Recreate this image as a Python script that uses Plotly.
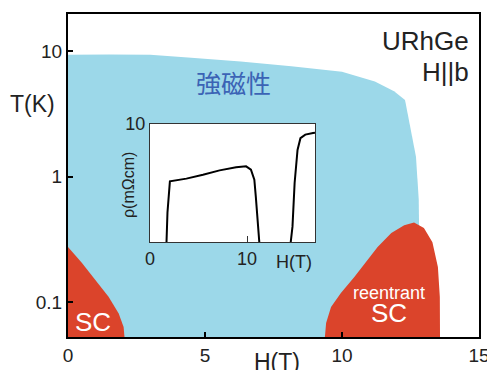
import plotly.graph_objects as go

# ---- data ----
# ferromagnetic (blue) region boundary: H (T), T (K)
fm_H = [0, 0, 1.5, 3.0, 4.5, 6.3, 8.15, 10.0, 11.2, 11.9, 12.3, 12.5, 12.7, 12.8, 12.82, 12.82]
fm_T = [0.04, 9.4, 9.45, 9.4, 8.9, 8.3, 7.6, 6.9, 5.75, 4.8, 4.1, 2.5, 1.44, 0.66, 0.3, 0.04]

# low-field superconducting region
sc_H = [0, 0, 0.51, 0.99, 1.48, 1.85, 2.03, 2.07, 2.07]
sc_T = [0.04, 0.275, 0.205, 0.15, 0.11, 0.081, 0.063, 0.05, 0.04]

# reentrant superconducting region
rsc_H = [9.33, 9.42, 9.6, 9.96, 10.45, 10.94, 11.3, 11.8, 12.27, 12.63, 12.99, 13.3, 13.5, 13.57, 13.58]
rsc_T = [0.04, 0.068, 0.091, 0.118, 0.158, 0.217, 0.275, 0.355, 0.41, 0.43, 0.39, 0.3, 0.19, 0.11, 0.04]

# inset: resistivity vs field (zero-resistance stretches lie on the axis line)
inset_H = [1.7, 1.8, 2.05, 3.75, 5.46, 7.17, 8.87, 9.9, 10.4, 10.75, 10.9, 11.1, 11.26, None,
           14.5, 14.68, 14.9, 15.2, 15.5, 16.0, 16.8, 17.0]
inset_rho = [0, 2.5, 5.14, 5.37, 5.7, 6.07, 6.33, 6.41, 6.13, 5.28, 3.87, 1.9, 0, None,
             0, 1.3, 5.0, 7.8, 8.8, 9.1, 9.24, 9.26]

x_ticks = [0, 5, 10, 15]
y_ticks = [0.1, 1, 10]
y_ticktext = ["0.1", "1", "10"]
inset_x_ticks = [0, 10]
inset_y_ticks = [10]

BLUE = "#9cd8e9"
RED = "#db442b"
FONT = "Liberation Sans, Arial, sans-serif"

# layout geometry (pixels)
W, H = 487, 370
L, R, T, B = 68, 479, 14, 337


def px(x):
    return (x - L) / (R - L)


def py(y):
    return (B - y) / (B - T)


fig = go.Figure()
fig.add_trace(go.Scatter(x=fm_H, y=fm_T, mode="lines", fill="toself", fillcolor=BLUE,
                         line=dict(width=0, color=BLUE), hoverinfo="skip"))
fig.add_trace(go.Scatter(x=sc_H, y=sc_T, mode="lines", fill="toself", fillcolor=RED,
                         line=dict(width=0, color=RED), hoverinfo="skip"))
fig.add_trace(go.Scatter(x=rsc_H, y=rsc_T, mode="lines", fill="toself", fillcolor=RED,
                         line=dict(width=0, color=RED), hoverinfo="skip"))
fig.add_trace(go.Scatter(x=inset_H, y=inset_rho, mode="lines", xaxis="x2", yaxis="y2",
                         line=dict(width=2, color="black"), connectgaps=False,
                         hoverinfo="skip"))

fig.update_layout(
    width=W, height=H,
    margin=dict(l=L, r=W - R, t=T, b=H - B, pad=0, autoexpand=False),
    paper_bgcolor="white", plot_bgcolor="white",
    showlegend=False,
    font=dict(family=FONT, color="#222222"),
    xaxis=dict(range=[0, 15], tickvals=x_ticks, ticks="inside", ticklen=5, tickwidth=2,
               tickcolor="black", showline=True, linecolor="black", linewidth=2, mirror=True,
               showgrid=False, zeroline=False, tickfont=dict(size=19), layer="above traces",
               ticklabeloverflow="allow", automargin=False),
    yaxis=dict(type="log", range=[-1.28, 1.299], tickvals=y_ticks, ticktext=y_ticktext,
               ticks="inside", ticklen=5, tickwidth=2, tickcolor="black",
               showline=True, linecolor="black", linewidth=2, mirror=True,
               showgrid=False, zeroline=False, tickfont=dict(size=19), layer="above traces",
               automargin=False),
    xaxis2=dict(domain=[px(150), px(315)], anchor="y2", range=[0, 17], tickvals=inset_x_ticks,
                ticks="inside", ticklen=6, tickwidth=1, tickcolor="#333",
                showline=True, linecolor="#333", linewidth=1, mirror=True,
                showgrid=False, zeroline=False, tickfont=dict(size=18), automargin=False),
    yaxis2=dict(domain=[py(242), py(124)], anchor="x2", range=[0, 10], tickvals=inset_y_ticks,
                ticks="", showline=True, linecolor="#333", linewidth=1, mirror=True,
                showgrid=False, zeroline=False, tickfont=dict(size=18), automargin=False),
)

annots = [
    dict(text="T(K)", x=px(32), y=py(104), size=23, color="#222222"),
    dict(text="H(T)", x=px(277), y=py(362), size=23, color="#222222"),
    dict(text="強磁性", x=px(233), y=py(82), size=25, color="#3b63b5",
         family="Noto Sans CJK JP"),
    dict(text="SC", x=px(93), y=py(322), size=26, color="white"),
    dict(text="reentrant<br><span style='font-size:26px'>SC</span>", x=px(389), y=py(305),
         size=18, color="white"),
    dict(text="H(T)", x=px(294), y=py(262), size=18, color="#222222"),
]
for a in annots:
    fig.add_annotation(text=a["text"], x=a["x"], y=a["y"], xref="paper", yref="paper",
                       xanchor="center", yanchor="middle", showarrow=False,
                       font=dict(size=a["size"], color=a["color"], family=a.get("family", FONT)))

for txt, yy in [("URhGe", 41), ("H||b", 72)]:
    fig.add_annotation(text=txt, x=px(471), y=py(yy), xref="paper", yref="paper",
                       xanchor="right", yanchor="middle", showarrow=False,
                       font=dict(size=26, color="#222222", family=FONT))

fig.add_annotation(text="ρ(mΩcm)", x=px(128), y=py(185), xref="paper", yref="paper",
                   xanchor="center", yanchor="middle", showarrow=False, textangle=-90,
                   font=dict(size=16, color="#222222", family=FONT))

fig.write_html("out.html", config={"displayModeBar": False},
               post_script="document.body.style.margin='0';")
